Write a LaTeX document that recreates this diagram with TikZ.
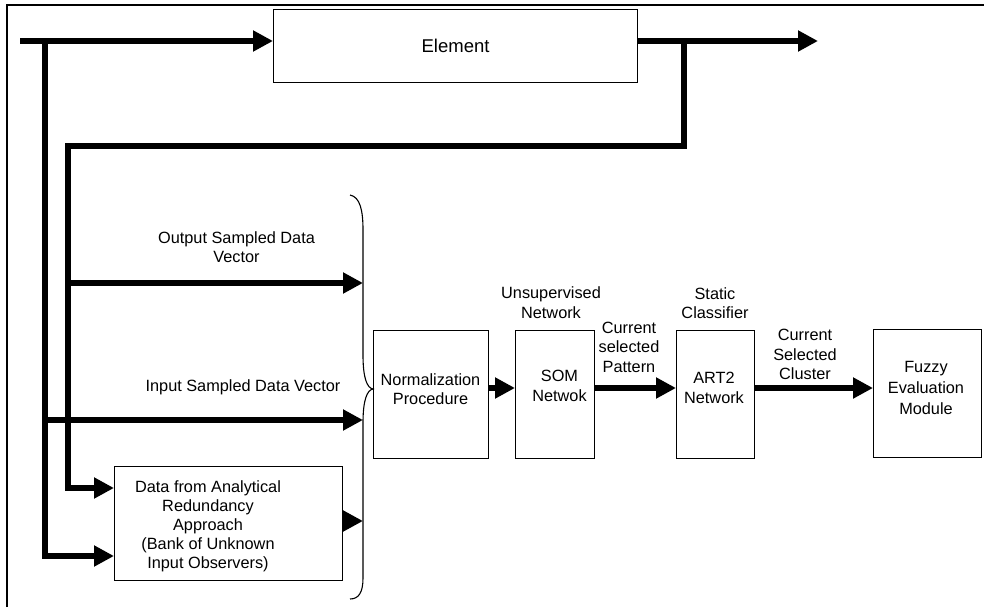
\documentclass[tikz,border=0pt]{standalone}
\usepackage{fontspec}
\setmainfont{Liberation Sans}
\usetikzlibrary{arrows.meta}
\begin{document}
\begin{tikzpicture}[x=1pt,y=-1pt,
  box/.style={draw, line width=1.1pt, inner sep=0pt, anchor=north west},
  txt/.style={align=center, inner sep=0pt, font=\fontsize{16.3}{19.5}\selectfont},
  flow/.style={line width=6pt, line join=miter, -{Triangle[length=20pt,width=20pt]}},
  bracestyle/.style={line width=1.1pt},
  frame/.style={line width=2pt}
]
\useasboundingbox (0,0) rectangle (984,607);
\draw[frame] (7,607) -- (7,5) -- (984,5);

% boxes
\node[box, minimum width=364pt, minimum height=73pt, font=\fontsize{18.5}{22}\selectfont] (element) at (273,9) {Element};
\node[box, minimum width=228pt, minimum height=114pt] (data) at (114,466) {};
\node[box, minimum width=115pt, minimum height=128pt] (norm) at (373,330) {};
\node[box, minimum width=79pt, minimum height=128pt] (som) at (515,330) {};
\node[box, minimum width=78pt, minimum height=128pt] (art) at (676,330) {};
\node[box, minimum width=108pt, minimum height=128pt] (fuzzy) at (873,329) {};

% box texts
\node[txt, font=\fontsize{16.3}{19}\selectfont] (datatxt) at (208,526) {Data from Analytical\\Redundancy\\Approach\\(Bank of Unknown\\Input Observers)};
\node[txt, font=\fontsize{16.3}{18.5}\selectfont] (normtxt) at (430.5,389) {Normalization\\Procedure};
\node[txt] (somtxt) at (559.5,386) {SOM\\Netwok};
\node[txt] (arttxt) at (714,388) {ART2\\Network};
\node[txt, font=\fontsize{16.3}{21}\selectfont] (fuzzytxt) at (926,388) {Fuzzy\\Evaluation\\Module};

% labels
\node[txt] (outlbl) at (236.5,247) {Output Sampled Data\\Vector};
\node[txt] (inlbl) at (243,387) {Input Sampled Data Vector};
\node[txt] (unsup) at (551,302.5) {Unsupervised\\Network};
\node[txt] (curpat) at (629,347) {Current\\selected\\Pattern};
\node[txt] (static) at (715,303) {Static\\Classifier};
\node[txt] (curclu) at (805,354.5) {Current\\Selected\\Cluster};

% coordinates
\coordinate (src) at (20,41);
\coordinate (outend) at (818,41);
\coordinate (tapA) at (684,41);
\coordinate (cornerA) at (684,146);
\coordinate (cornerB) at (68,146);
\coordinate (cornerC) at (68,488);
\coordinate (tapB) at (45,41);
\coordinate (cornerD) at (45,556);
\coordinate (outY) at (68,283);
\coordinate (inY) at (45,420);
\coordinate (braceX) at (363,0);
\coordinate (dataY) at (0,521);
\coordinate (row) at (0,388);

% connectors
\draw[flow] (src) -- (src -| element.west);
\draw[flow] (element.east |- src) -- (outend);
\draw[flow] (tapA) -- (cornerA) -- (cornerB) -- (cornerC) -- (cornerC -| data.west);
\draw[flow] (tapB) -- (cornerD) -- (cornerD -| data.west);
\draw[flow] (outY) -- (outY -| braceX);
\draw[flow] (inY) -- (inY -| braceX);
\draw[flow] (data.east |- dataY) -- (braceX |- dataY);
\draw[flow] (norm.east |- row) -- (som.west |- row);
\draw[flow] (som.east |- row) -- (art.west |- row);
\draw[flow] (art.east |- row) -- (fuzzy.west |- row);

% brace
\draw[bracestyle] (350,195) .. controls (360,197) and (363,210) .. (363,230)
  -- (363,355) .. controls (363,378) and (367,388) .. (373,389)
  .. controls (367,390) and (363,400) .. (363,423)
  -- (363,578) .. controls (363,592) and (359,599) .. (350,599);
\end{tikzpicture}
\end{document}
